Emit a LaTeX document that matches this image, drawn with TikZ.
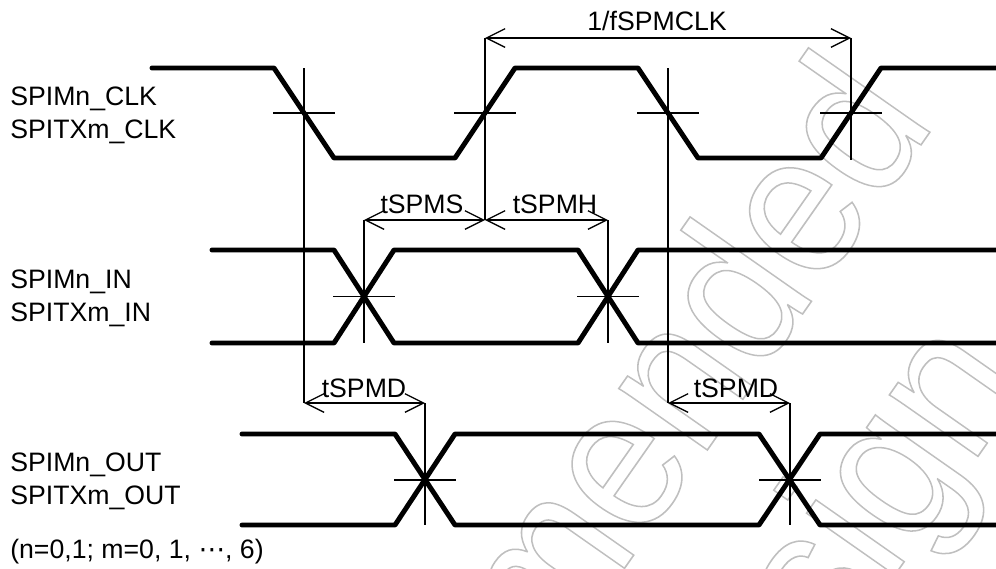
\documentclass[tikz,border=0pt]{standalone}
\usepackage{fontspec}
\setmainfont{Liberation Sans}
\newfontfamily\dotsfont{DejaVu Sans}
\usetikzlibrary{arrows.meta}
\newcommand{\outlinetext}[1]{\scalebox{0.91}[1]{\special{pdf:code 1 Tr 1.2 w 0.75 0.75 0.75 RG}#1\special{pdf:code 0 Tr}}}

\begin{document}
\begin{tikzpicture}[x=0.75pt,y=-0.75pt,
  signal/.style={line width=3.7pt,line cap=round,line join=round},
  guide/.style={line width=0.95pt},
  dim/.style={guide,{Straight Barb[length=14pt,width=14pt]}-{Straight Barb[length=14pt,width=14pt]}},
  label/.style={anchor=base west,inner sep=0pt,font=\fontsize{20}{24}\selectfont},
  dimlabel/.style={anchor=base,inner sep=0pt,font=\fontsize{20}{24}\selectfont},
  stamp/.style={anchor=base east,inner sep=0pt,rotate=55,font=\fontsize{153}{170}\selectfont}]
  \useasboundingbox (0,0) rectangle (996,568);

  %watermark
  \begin{scope}
    \clip (0,0) rectangle (996,568);
    \node[stamp] (stampA) at (937,122) {\outlinetext{mended}};
    \node[stamp] (stampB) at (1030,382) {\outlinetext{design}};
  \end{scope}

  %signals
  \draw[signal] (152,68) -- (274,68) -- (334,158) -- (455,158) -- (515,68) -- (638,68) -- (698,158) -- (821,158) -- (881,68) -- (996,68);
  \draw[signal] (212,250) -- (334,250) -- (394,343) -- (578,343) -- (638,250) -- (996,250);
  \draw[signal] (212,343) -- (334,343) -- (394,250) -- (578,250) -- (638,343) -- (996,343);
  \draw[signal] (242,434) -- (395,434) -- (455,525) -- (759,525) -- (820,434) -- (996,434);
  \draw[signal] (242,525) -- (395,525) -- (455,434) -- (759,434) -- (820,525) -- (996,525);

  %levels
  \foreach \px in {304,485,668,851}
    \draw[guide] (\px-31,113) -- (\px+31,113);
  \foreach \px in {364,608}
    \draw[guide] (\px-31,296.5) -- (\px+31,296.5);
  \foreach \px in {425,790}
    \draw[guide] (\px-31,480) -- (\px+31,480);

  %timing marks
  \coordinate (clkA) at (485,38);
  \coordinate (clkB) at (851,38);
  \coordinate (setA) at (364,220);
  \coordinate (setB) at (485,220);
  \coordinate (holdB) at (608,220);
  \coordinate (outA) at (304,403);
  \coordinate (outB) at (425,403);
  \coordinate (outC) at (668,403);
  \coordinate (outD) at (790,403);
  \draw[guide] (clkA) -- (setB);
  \draw[guide] (clkB) -- (851,160);
  \draw[guide] (304,68) -- (outA);
  \draw[guide] (668,68) -- (outC);
  \draw[guide] (setA) -- (364,343);
  \draw[guide] (holdB) -- (608,343);
  \draw[guide] (outB) -- (425,525);
  \draw[guide] (outD) -- (790,525);
  \draw[dim] (clkA) -- (clkB);
  \draw[dim] (setA) -- (setB);
  \draw[dim] (setB) -- (holdB);
  \draw[dim] (outA) -- (outB);
  \draw[dim] (outC) -- (outD);

  %labels
  \node[dimlabel] (period) at (657,30) {1/fSPMCLK};
  \node[dimlabel] (setup) at (422,213) {tSPMS};
  \node[dimlabel] (hold) at (555,213) {tSPMH};
  \node[dimlabel] (delayA) at (364,397) {tSPMD};
  \node[dimlabel] (delayB) at (736,397) {tSPMD};
  \node[label] (clkM) at (10,105.5) {SPIMn\_CLK};
  \node[label] (clkT) at (10,138) {SPITXm\_CLK};
  \node[label] (inM) at (10,288) {SPIMn\_IN};
  \node[label] (inT) at (10,321) {SPITXm\_IN};
  \node[label] (outM) at (10,471.5) {SPIMn\_OUT};
  \node[label] (outT) at (10,504) {SPITXm\_OUT};
  \node[label] (note) at (10,558) {(n=0,1; m=0, 1, {\dotsfont ⋯}, 6)};
\end{tikzpicture}
\end{document}
